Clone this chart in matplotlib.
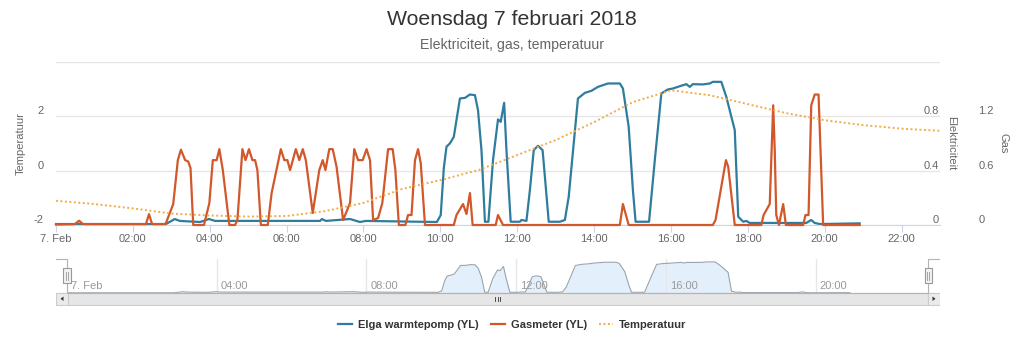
import matplotlib
matplotlib.use('Agg')
import matplotlib.pyplot as plt
from matplotlib.lines import Line2D
from matplotlib.patches import Rectangle, Polygon
from matplotlib.transforms import ScaledTranslation

plt.rcParams['font.family'] = ['Liberation Sans', 'DejaVu Sans']

# Elga warmtepomp (kW), hours since 7 Feb 00:00
elga_hours = [0.0, 2.86, 3.09, 3.22, 3.75, 3.98, 4.14, 6.87, 6.92, 7.02, 7.65, 7.91, 8.06, 9.91,
              10.01, 10.09, 10.16, 10.25, 10.35, 10.51, 10.64, 10.77, 10.90, 10.98, 11.07, 11.16,
              11.25, 11.37, 11.50, 11.57, 11.66, 11.72, 11.83, 12.07, 12.11, 12.24, 12.33, 12.43,
              12.54, 12.66, 12.72, 12.82, 13.11, 13.24, 13.34, 13.58, 13.76, 13.93, 14.10, 14.36,
              14.67, 14.75, 14.90, 15.01, 15.08, 15.43, 15.58, 15.75, 15.92, 16.05, 16.23, 16.40,
              16.49, 16.57, 16.83, 17.01, 17.09, 17.31, 17.44, 17.66, 17.75, 17.88, 17.96, 18.05,
              19.52, 19.65, 19.74, 19.87, 20.91]
elga_kw = [0.007, 0.007, 0.044, 0.03, 0.022, 0.044, 0.03, 0.03, 0.044, 0.03, 0.044, 0.022, 0.03, 0.022,
           0.073, 0.418, 0.575, 0.60, 0.648, 0.93, 0.934, 0.959, 0.954, 0.844, 0.55, 0.024,
           0.024, 0.477, 0.776, 0.758, 0.898, 0.55, 0.024, 0.024, 0.037, 0.03, 0.257, 0.55,
           0.582, 0.55, 0.355, 0.024, 0.024, 0.037, 0.208, 0.93, 0.971, 0.986, 1.015, 1.04,
           1.04, 1.003, 0.722, 0.257, 0.024, 0.024, 0.477, 0.967, 0.996, 1.003, 1.02, 1.035,
           1.015, 1.035, 1.033, 1.04, 1.052, 1.052, 0.942, 0.697, 0.061, 0.024, 0.03, 0.015,
           0.015, 0.037, 0.015, 0.007, 0.012]

# Gasmeter (m3)
gas_hours = [0, 0.49, 0.60, 0.70, 2.34, 2.42, 2.50, 2.85, 3.05, 3.17,
             3.25, 3.36, 3.44, 3.50, 3.57, 3.85, 3.99, 4.08, 4.18, 4.25,
             4.34, 4.51, 4.66, 4.72, 4.85, 4.93, 5.02, 5.11, 5.18, 5.24,
             5.33, 5.51, 5.61, 5.85, 5.94, 6.02, 6.09, 6.24, 6.33, 6.42,
             6.50, 6.68, 6.85, 6.94, 7.01, 7.11, 7.20, 7.30, 7.47, 7.65,
             7.76, 7.86, 7.98, 8.08, 8.17, 8.25, 8.38, 8.49, 8.64, 8.76,
             8.83, 8.92, 9.09, 9.16, 9.25, 9.34, 9.42, 9.49, 9.60, 10.35,
             10.42, 10.59, 10.68, 10.77, 10.84, 11.44, 11.50, 11.63, 14.67, 14.75,
             14.90, 17.09, 17.16, 17.43, 17.49, 17.66, 18.35, 18.41, 18.57, 18.66,
             18.70, 18.74, 18.81, 18.92, 18.99, 19.44, 19.50, 19.58, 19.65, 19.74,
             19.84, 19.96, 20.91]
gas_m3 = [0.005, 0.01, 0.047, 0.01, 0.01, 0.12, 0.01, 0.01, 0.23, 0.715,
          0.83, 0.715, 0.70, 0.627, 0, 0, 0.242, 0.715, 0.715, 0.836,
          0.605, 0, 0, 0.055, 0.836, 0.715, 0.836, 0.715, 0.715, 0.605,
          0, 0, 0.352, 0.836, 0.715, 0.715, 0.605, 0.836, 0.715, 0.836,
          0.715, 0.132, 0.605, 0.715, 0.605, 0.836, 0.836, 0.641, 0.055, 0.242,
          0.836, 0.715, 0.715, 0.836, 0.715, 0.055, 0.077, 0.242, 0.836, 0.836,
          0.605, 0, 0, 0.11, 0.11, 0.715, 0.836, 0.682, 0, 0,
          0.11, 0.231, 0.121, 0.352, 0, 0, 0.11, 0, 0, 0.231,
          0, 0, 0.055, 0.715, 0.641, 0, 0, 0.11, 0.231, 1.32,
          0.825, 0.11, 0, 0.231, 0, 0, 0.11, 0.11, 1.32, 1.438,
          1.438, 0, 0]

# Temperatuur (C), hourly
temp_hours = list(range(24))
temp_c = [-1.11, -1.23, -1.39, -1.58, -1.65, -1.69, -1.67, -1.49, -1.19, -0.68, -0.35, 0.02,
          0.57, 1.12, 1.78, 2.51, 2.95, 2.77, 2.44, 2.11, 1.85, 1.67, 1.54, 1.46]

x_ticks = [0, 2, 4, 6, 8, 10, 12, 14, 16, 18, 20, 22]
x_labels = ['7. Feb', '02:00', '04:00', '06:00', '08:00', '10:00', '12:00', '14:00',
            '16:00', '18:00', '20:00', '22:00']
nav_ticks = [0, 4, 8, 12, 16, 20]
nav_labels = ['7. Feb', '04:00', '08:00', '12:00', '16:00', '20:00']

BLUE = '#2f7c9f'
ORANGE = '#d2572a'
TEMP = '#f2ac45'
GRID = '#e6e6e6'
LABEL = '#666666'

W, H = 1024, 341
fig = plt.figure(figsize=(W / 100, H / 100), dpi=100)


def box(x0, y0, x1, y1):
    return [x0 / W, 1 - y1 / H, (x1 - x0) / W, (y1 - y0) / H]


def shift(lab, dx=0, dy=0):
    lab.set_transform(lab.get_transform() + ScaledTranslation(dx / 100, dy / 100, fig.dpi_scale_trans))


# main chart: electricity axis at the bottom of the stack
ax = fig.add_axes(box(56, 61.7, 940, 225))
ax_gas = ax.twinx()
ax_t = ax.twinx()

for a in (ax, ax_gas, ax_t):
    for s in a.spines.values():
        s.set_visible(False)
    a.set_xlim(0, 23)
ax.spines['bottom'].set_visible(True)
ax.spines['bottom'].set_color('#ccd6eb')

ax.set_ylim(0, 1.2)
ax.set_yticks([0, 0.4, 0.8, 1.2], ['0', '0.4', '0.8', ''])
ax.yaxis.tick_right()
ax.grid(axis='y', color=GRID, lw=1)
ax.tick_params(axis='y', length=0, pad=-1, labelsize=8, labelcolor=LABEL)
for lab in ax.get_yticklabels():
    lab.set_ha('right')
    lab.set_va('bottom')
ax.set_xticks(x_ticks, x_labels)
ax.tick_params(axis='x', length=5, color='#ccd6eb', labelsize=8, labelcolor=LABEL, pad=1.5)
ax.yaxis.set_label_position('right')
ax.set_ylabel('Elektriciteit', rotation=270, color=LABEL, fontsize=8, va='center')
ax.yaxis.set_label_coords((951 - 56) / 884, 0.5)

ax_gas.set_ylim(0, 1.8)
ax_gas.set_yticks([0, 0.6, 1.2, 1.8], ['0', '0.6', '1.2', ''])
ax_gas.tick_params(axis='y', length=0, pad=27.5, labelsize=8, labelcolor=LABEL)
for lab in ax_gas.get_yticklabels():
    lab.set_va('bottom')
ax_gas.set_ylabel('Gas', rotation=270, color=LABEL, fontsize=8, va='center')
ax_gas.yaxis.set_label_coords((1003.5 - 56) / 884, 0.5)

ax_t.set_ylim(-2, 4)
ax_t.yaxis.tick_left()
ax_t.yaxis.set_label_position('left')
ax_t.set_yticks([-2, 0, 2, 4], ['-2', '0', '2', ''])
ax_t.tick_params(axis='y', length=0, pad=9, labelsize=8, labelcolor=LABEL)
for lab in ax_t.get_yticklabels():
    lab.set_va('bottom')
ax_t.set_ylabel('Temperatuur', color=LABEL, fontsize=8, va='center')
ax_t.yaxis.set_label_coords((21 - 56) / 884, 0.5)

ax.plot(elga_hours, elga_kw, color=BLUE, lw=1.6, solid_joinstyle='round', clip_on=False)
ax_gas.plot(gas_hours, gas_m3, color=ORANGE, lw=1.6, solid_joinstyle='round', clip_on=False)
ax_t.plot(temp_hours, temp_c, color=TEMP, lw=1.4, linestyle=(0, (1, 1.3)))

# titles
fig.text(0.5, 1 - 19.5 / H, 'Woensdag 7 februari 2018', ha='center', va='center', fontsize=15.3, color='#333333')
fig.text(0.5, 1 - 45 / H, 'Elektriciteit, gas, temperatuur', ha='center', va='center', fontsize=10.2, color=LABEL)

# navigator background, scrollbar and handles (pixel coordinates)
bg = fig.add_axes(box(56, 257, 940, 306))
bg.set_xlim(56, 940)
bg.set_ylim(306, 257)
bg.axis('off')
bg.add_patch(Rectangle((56, 293), 884, 11.5, facecolor='#f2f2f2', edgecolor='#cccccc', lw=0.8))
bg.add_patch(Rectangle((67, 293), 861, 11.5, facecolor='#e6e6e6', edgecolor='#cccccc', lw=0.8))
for bx in (56, 928):
    bg.add_patch(Rectangle((bx, 293), 12, 11.5, facecolor='#ebebeb', edgecolor='#cccccc', lw=0.8))
bg.add_patch(Polygon([[63.5, 296.5], [63.5, 301], [60.5, 298.75]], closed=True, color='#333333', lw=0))
bg.add_patch(Polygon([[932.5, 296.5], [932.5, 301], [935.5, 298.75]], closed=True, color='#333333', lw=0))
for gx in (495, 497.5, 500):
    bg.plot([gx, gx], [296.5, 301], color='#333333', lw=0.6)

# navigator series
nav = fig.add_axes(box(67, 259, 928, 293))
nav.set_xlim(0, 23)
nav.set_ylim(0, 1.15)
for s in nav.spines.values():
    s.set_visible(False)
nav.patch.set_visible(False)
nav.fill_between(elga_hours, elga_kw, color='#e3f0fb', lw=0)
nav.plot(elga_hours, elga_kw, color='#9aa4ae', lw=0.8)
nav.set_yticks([])
nav.set_xticks(nav_ticks, nav_labels)
nav.grid(axis='x', color=GRID, lw=1)
nav.tick_params(axis='x', length=0, pad=-8.5, labelsize=8, labelcolor='#999999')
for lab in nav.get_xticklabels():
    lab.set_ha('left')
    shift(lab, dx=4)

# mask outline and handles
bg.plot([56, 67, 67, 928, 928, 940], [259, 259, 293, 293, 259, 259], color='#b3b3b3', lw=0.8, zorder=3)
for hx in (67, 928):
    bg.add_patch(Rectangle((hx - 3.5, 268), 7, 15, facecolor='#f2f2f2', edgecolor='#999999', lw=0.8, zorder=4))
    for lx in (hx - 1, hx + 1):
        bg.plot([lx, lx], [271.5, 279.5], color='#999999', lw=0.6, zorder=5)
bg.set_zorder(3)

# legend
handles = [Line2D([], [], color=BLUE, lw=1.6),
           Line2D([], [], color=ORANGE, lw=1.6),
           Line2D([], [], color=TEMP, lw=1.4, linestyle=(0, (1, 1.3)))]
names = ['Elga warmtepomp (YL)', 'Gasmeter (YL)', 'Temperatuur']
fig.legend(handles, names, loc='center', bbox_to_anchor=(0.5, 1 - 325 / H), ncol=3, frameon=False,
           handlelength=1.3, handletextpad=0.5, columnspacing=1.1,
           prop={'weight': 'bold', 'size': 8})
for t in fig.legends[0].get_texts():
    t.set_color('#333333')

fig.savefig('out.png', dpi=100, facecolor='white')
